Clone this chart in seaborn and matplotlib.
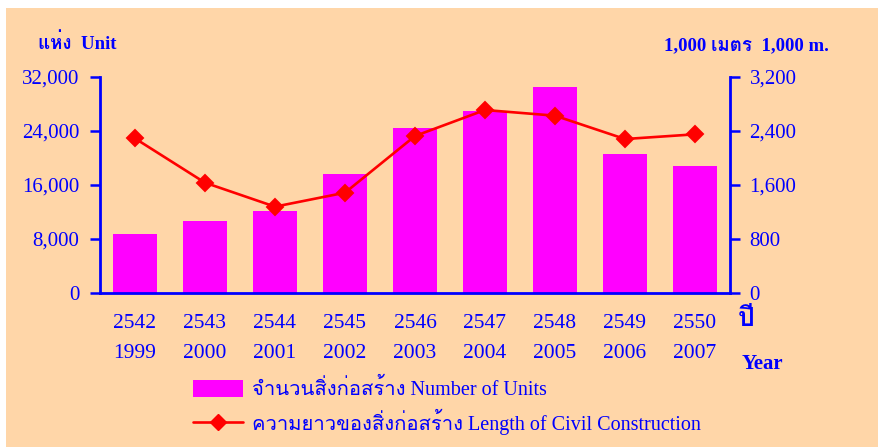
import pandas as pd
import matplotlib
matplotlib.use("Agg")
import matplotlib.pyplot as plt
import seaborn as sns
from matplotlib import font_manager, ft2font
from matplotlib.patches import Rectangle, Patch
from matplotlib.lines import Line2D

# Data
years_be = ["2542", "2543", "2544", "2545", "2546", "2547", "2548", "2549", "2550"]
years_ad = ["1999", "2000", "2001", "2002", "2003", "2004", "2005", "2006", "2007"]
units = [8700, 10700, 12150, 17630, 24440, 26960, 30570, 20590, 18810]
length_km = [2290, 1634, 1279, 1486, 2326, 2711, 2627, 2281, 2351]

left_ticks = [0, 8000, 16000, 24000, 32000]
right_ticks = [0, 800, 1600, 2400, 3200]

BG = "#FFD6A8"
BLUE = "#0000FF"


def find_thai_font():
    """Look for an installed font that has Thai glyphs."""
    for f in font_manager.fontManager.ttflist:
        try:
            font = ft2font.FT2Font(f.fname)
            if 0x0E08 in font.get_charmap() and 0x0E2A in font.get_charmap():
                return f.name
        except Exception:
            pass
    return None


sns.set_style("white")
thai = find_thai_font()
families = ["Liberation Serif"] + ([thai] if thai else []) + ["DejaVu Sans"]
plt.rcParams["font.family"] = families

df = pd.DataFrame({"year": years_be, "units": units, "length": length_km})

fig = plt.figure(figsize=(8.79, 4.47), dpi=100, facecolor="white")
fig.patches.append(Rectangle((6 / 879, 0), 1, 1 - 8 / 447, transform=fig.transFigure,
                             facecolor=BG, edgecolor="none", zorder=-10))
ax = fig.add_axes([100 / 879, 1 - 293 / 447, 630 / 879, 216 / 447])
ax.set_facecolor(BG)
ax2 = ax.twinx()

sns.barplot(data=df, x="year", y="units", order=years_be, color="#FF00FF",
            saturation=1, width=0.63, edgecolor="none", linewidth=0, ax=ax)
sns.pointplot(data=df, x="year", y="length", order=years_be, color="#FF0000",
              markers="D", markersize=8, linewidth=1.9, errorbar=None, ax=ax2)

ax.set_ylim(0, 32000)
ax2.set_ylim(0, 3200)
ax.set_xlim(-0.5, len(years_be) - 0.5)
ax.set_yticks(left_ticks)
ax.set_yticklabels([f"{v:,}" for v in left_ticks])
ax2.set_yticks(right_ticks)
ax2.set_yticklabels([f"{v:,}" for v in right_ticks])
ax.set_xticks(range(len(years_be)))
ax.set_xticklabels([f"{a}\n{b}" for a, b in zip(years_be, years_ad)], linespacing=1.8)
for a in (ax, ax2):
    a.set_xlabel("")
    a.set_ylabel("")
    a.spines["top"].set_visible(False)

ax.spines["right"].set_visible(False)
ax2.spines["left"].set_visible(False)
ax2.spines["bottom"].set_visible(False)
for s in ("left", "bottom"):
    ax.spines[s].set_color(BLUE)
    ax.spines[s].set_linewidth(2)
ax2.spines["right"].set_color(BLUE)
ax2.spines["right"].set_linewidth(2)

ax.tick_params(axis="y", direction="out", length=7, width=1.8, color=BLUE,
               labelcolor=BLUE, labelsize=15, pad=8, left=True)
ax2.tick_params(axis="y", direction="out", length=7, width=1.8, color=BLUE,
                labelcolor=BLUE, labelsize=15, pad=7, right=True)
ax.tick_params(axis="x", length=0, labelcolor=BLUE, labelsize=15.5, pad=15)

# Axis titles
fig.text(38 / 879, 1 - 43 / 447, "แห่ง  Unit", color=BLUE, fontsize=13.5,
         fontweight="bold", ha="left", va="center")
fig.text(829 / 879, 1 - 46 / 447, "1,000 เมตร  1,000 m.", color=BLUE, fontsize=13.5,
         fontweight="bold", ha="right", va="center")
fig.text(738 / 879, 1 - 320 / 447, "ปี", color=BLUE, fontsize=19,
         fontweight="bold", ha="left", va="center")
fig.text(742 / 879, 1 - 364 / 447, "Year", color=BLUE, fontsize=15,
         fontweight="bold", ha="left", va="center")

handles = [Patch(facecolor="#FF00FF", edgecolor="none"),
           Line2D([], [], color="#FF0000", marker="D", markersize=8, linewidth=1.9)]
labels = ["จำนวนสิ่งก่อสร้าง Number of Units",
          "ความยาวของสิ่งก่อสร้าง Length of Civil Construction"]
leg = fig.legend(handles, labels, loc="upper left", bbox_to_anchor=(193 / 879, 1 - 379 / 447),
                 frameon=False, fontsize=14.5, handlelength=2.5, handleheight=0.95,
                 labelspacing=0.45, handletextpad=0.45, borderaxespad=0, borderpad=0)
for t in leg.get_texts():
    t.set_color(BLUE)

fig.savefig("out.png", dpi=100, facecolor=fig.get_facecolor())
